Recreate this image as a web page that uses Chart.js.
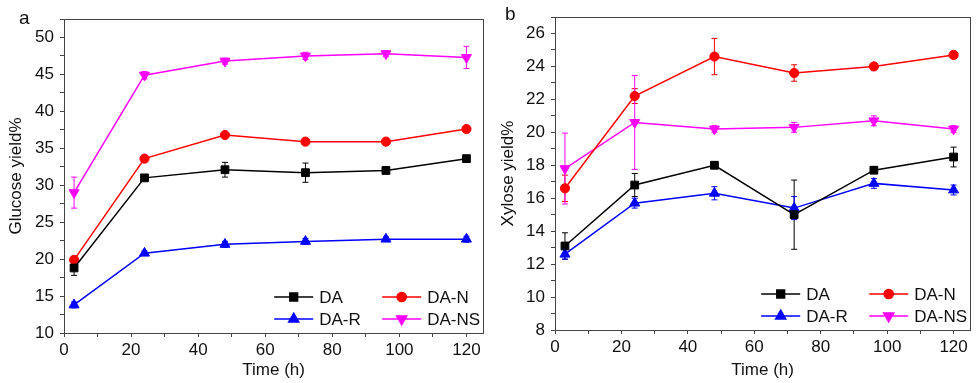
<!DOCTYPE html>
<html>
<head>
<meta charset="utf-8">
<script src="https://cdn.jsdelivr.net/npm/chart.js@4/dist/chart.umd.min.js"></script>
<style>
  body { margin: 0; background: #fff; width: 977px; height: 383px; overflow: hidden; position: relative;
         font-family: "Liberation Sans", Arial, sans-serif; }
  .panel { position: absolute; top: 0; height: 383px; }
  .lbl { position: absolute; font-size: 19px; color: #111; }
</style>
</head>
<body>
<div class="panel" style="left:0;width:490px"><canvas id="glucose" width="490" height="383"></canvas></div>
<div class="panel" style="left:490px;width:487px"><canvas id="xylose" width="487" height="383"></canvas></div>
<div class="lbl" style="left:19px;top:7px">a</div>
<div class="lbl" style="left:505px;top:3px">b</div>
<script>
// sampling times (h)
const hours = [3, 24, 48, 72, 96, 120];
const names = ['DA', 'DA-N', 'DA-R', 'DA-NS'];

// glucose yield %
const glucoseDA   = [18.8, 31.0, 32.1, 31.7, 32.0, 33.6];
const glucoseDAN  = [19.9, 33.6, 36.8, 35.9, 35.9, 37.6];
const glucoseDAR  = [13.8, 20.8, 22.0, 22.4, 22.7, 22.7];
const glucoseDANS = [29.0, 44.9, 46.8, 47.5, 47.8, 47.3];
const glucoseErrDA   = [1.0, 0.3, 1.0, 1.3, 0.3, 0.3];
const glucoseErrDAN  = [0.3, 0.3, 0.3, 0.3, 0.3, 0.3];
const glucoseErrDAR  = [0.4, 0.3, 0.4, 0.4, 0.3, 0.4];
const glucoseErrDANS = [2.1, 0.5, 0.4, 0.5, 0.4, 1.5];

// xylose yield %
const xyloseDA   = [13.1, 16.8, 18.0, 15.0, 17.7, 18.5];
const xyloseDAN  = [16.6, 22.2, 24.6, 23.6, 24.0, 24.7];
const xyloseDAR  = [12.6, 15.7, 16.3, 15.4, 16.9, 16.5];
const xyloseDANS = [17.8, 20.6, 20.2, 20.3, 20.7, 20.2];
const xyloseErrDA   = [0.8, 0.7, 0.2, 2.1, 0.2, 0.6];
const xyloseErrDAN  = [0.8, 0.45, 1.1, 0.5, 0.2, 0.2];
const xyloseErrDAR  = [0.3, 0.3, 0.4, 0.7, 0.3, 0.3];
const xyloseErrDANS = [2.15, 2.85, 0.2, 0.3, 0.3, 0.2];

const colors = ['#000000', '#ff0000', '#0000ff', '#ff00ff'];
const styles = [
  { pointStyle: 'rect', radius: 5.5, rotation: 0 },
  { pointStyle: 'circle', radius: 4.6, rotation: 0 },
  { pointStyle: 'triangle', radius: 5.8, rotation: 0 },
  { pointStyle: 'triangle', radius: 5.8, rotation: 180 }
];
const axisColor = '#444';
const textColor = '#111';
const fontFamily = '"Liberation Sans", Arial, sans-serif';

function makeDatasets(values, errors) {
  return values.map((vals, i) => ({
    label: names[i],
    data: hours.map((h, j) => ({ x: h, y: vals[j], err: errors[i][j] })),
    borderColor: colors[i],
    backgroundColor: colors[i],
    borderWidth: 1.5,
    pointStyle: styles[i].pointStyle,
    pointRadius: styles[i].radius,
    pointRotation: styles[i].rotation,
    pointBorderWidth: 1,
    pointHoverRadius: styles[i].radius,
    tension: 0
  }));
}

// vertical error bars with caps
const errorBars = {
  id: 'errorBars',
  beforeDatasetsDraw(chart) {
    const ctx = chart.ctx;
    const ys = chart.scales.y, xs = chart.scales.x;
    chart.data.datasets.forEach((ds) => {
      ctx.save();
      ctx.strokeStyle = ds.borderColor;
      ctx.lineWidth = 1;
      ds.data.forEach(p => {
        const x = xs.getPixelForValue(p.x);
        const top = ys.getPixelForValue(p.y + p.err);
        const bot = ys.getPixelForValue(p.y - p.err);
        ctx.beginPath();
        ctx.moveTo(x, top); ctx.lineTo(x, bot);
        ctx.moveTo(x - 3, top); ctx.lineTo(x + 3, top);
        ctx.moveTo(x - 3, bot); ctx.lineTo(x + 3, bot);
        ctx.stroke();
      });
      ctx.restore();
    });
  }
};

// box around the plot area
const frame = {
  id: 'frame',
  afterDraw(chart) {
    const a = chart.chartArea, ctx = chart.ctx;
    ctx.save();
    ctx.strokeStyle = axisColor;
    ctx.lineWidth = 1;
    ctx.strokeRect(Math.round(a.left) + 0.5, Math.round(a.top) + 0.5,
                   Math.round(a.right - a.left), Math.round(a.bottom - a.top));
    ctx.restore();
  }
};

// two-column legend inside the plot, bottom right
const insideLegend = {
  id: 'insideLegend',
  afterDraw(chart) {
    const a = chart.chartArea, ctx = chart.ctx;
    ctx.save();
    ctx.font = '17px ' + fontFamily;
    ctx.textBaseline = 'middle';
    chart.data.datasets.forEach((ds, i) => {
      const col = i % 2, row = Math.floor(i / 2);
      const x0 = a.right - (col === 0 ? 209 : 101);
      const y = a.bottom - (row === 0 ? 36 : 14);
      ctx.strokeStyle = ds.borderColor;
      ctx.fillStyle = ds.backgroundColor;
      ctx.lineWidth = 1.5;
      ctx.beginPath();
      ctx.moveTo(x0, y); ctx.lineTo(x0 + 39, y);
      ctx.stroke();
      Chart.helpers.drawPoint(ctx, {
        pointStyle: ds.pointStyle, radius: ds.pointRadius,
        rotation: ds.pointRotation, borderWidth: 1
      }, x0 + 19.5, y);
      ctx.fillStyle = textColor;
      ctx.fillText(ds.label, x0 + 45, y + 1);
    });
    ctx.restore();
  }
};

function makeChart(id, values, errors, opts) {
  return new Chart(document.getElementById(id), {
    type: 'line',
    data: { datasets: makeDatasets(values, errors) },
    plugins: [errorBars, frame, insideLegend],
    options: {
      responsive: false,
      animation: false,
      devicePixelRatio: 1,
      layout: { padding: opts.padding },
      plugins: { legend: { display: false }, tooltip: { enabled: false } },
      scales: {
        x: {
          type: 'linear', min: 0, max: 125,
          afterFit: s => { s.height = opts.xHeight; },
          border: { color: axisColor, width: 1 },
          grid: { drawOnChartArea: false, drawTicks: true, tickLength: 4, color: axisColor },
          ticks: {
            stepSize: 10, includeBounds: false, autoSkip: false, maxRotation: 0,
            padding: 3, color: textColor, font: { size: 17, family: fontFamily },
            callback: v => (v % 20 === 0 ? v : '')
          },
          title: {
            display: true, text: 'Time (h)', color: textColor,
            font: { size: 17, family: fontFamily }, padding: { top: 0, bottom: 2 }
          }
        },
        y: {
          min: opts.yMin, max: opts.yMax,
          afterFit: s => { s.width = opts.yWidth; },
          border: { color: axisColor, width: 1 },
          grid: { drawOnChartArea: false, drawTicks: true, tickLength: 4, color: axisColor },
          ticks: {
            stepSize: opts.yStep, includeBounds: false, autoSkip: false,
            padding: 6, color: textColor, font: { size: 17, family: fontFamily },
            callback: v => (v % opts.yLabelEvery === 0 ? v : '')
          },
          title: {
            display: true, text: opts.yTitle, color: textColor,
            font: { size: 17, family: fontFamily }, padding: { top: opts.yTitlePad, bottom: 0 }
          }
        }
      }
    }
  });
}

makeChart('glucose',
  [glucoseDA, glucoseDAN, glucoseDAR, glucoseDANS],
  [glucoseErrDA, glucoseErrDAN, glucoseErrDAR, glucoseErrDANS],
  { padding: { top: 19, right: 5, left: 0, bottom: 0 }, xHeight: 50, yWidth: 64,
    yMin: 10, yMax: 52.5, yStep: 2.5, yLabelEvery: 5, yTitle: 'Glucose yield%', yTitlePad: 6 });

makeChart('xylose',
  [xyloseDA, xyloseDAN, xyloseDAR, xyloseDANS],
  [xyloseErrDA, xyloseErrDAN, xyloseErrDAR, xyloseErrDANS],
  { padding: { top: 17, right: 2, left: 0, bottom: 0 }, xHeight: 53, yWidth: 65,
    yMin: 8, yMax: 27, yStep: 1, yLabelEvery: 2, yTitle: 'Xylose yield%', yTitlePad: 8 });
</script>
</body>
</html>
